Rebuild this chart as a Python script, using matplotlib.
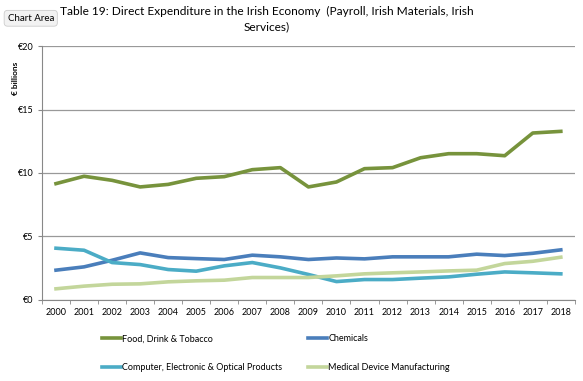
import matplotlib
matplotlib.use("Agg")
import matplotlib.pyplot as plt

plt.rcParams['font.family'] = ['Lato', 'DejaVu Sans']

years = [str(y) for y in range(2000, 2019)]
food = [9.16, 9.74, 9.42, 8.9, 9.1, 9.58, 9.71, 10.26, 10.42, 8.9, 9.29,
        10.34, 10.42, 11.2, 11.52, 11.52, 11.36, 13.15, 13.28]
chemicals = [2.34, 2.6, 3.12, 3.7, 3.33, 3.25, 3.18, 3.52, 3.39, 3.18, 3.3,
             3.23, 3.39, 3.39, 3.39, 3.6, 3.49, 3.67, 3.94]
computer = [4.07, 3.91, 2.94, 2.78, 2.39, 2.26, 2.68, 2.94, 2.52, 2.0, 1.44,
            1.6, 1.6, 1.71, 1.81, 2.02, 2.2, 2.13, 2.05]
medical = [0.87, 1.08, 1.23, 1.26, 1.42, 1.5, 1.55, 1.76, 1.76, 1.76, 1.89,
           2.05, 2.13, 2.2, 2.28, 2.34, 2.86, 3.04, 3.36]
yticks = [0, 5, 10, 15, 20]
ytick_labels = ['€0', '€5', '€10', '€15', '€20']

fig = plt.figure(figsize=(5.83, 3.81), dpi=100)
ax = fig.add_axes([0.072, 0.213, 0.914, 0.666])

x = range(len(years))
l1, = ax.plot(x, food, color='#77933C', lw=2.6, label='Food, Drink & Tobacco')
l2, = ax.plot(x, chemicals, color='#4A7EBB', lw=2.6, label='Chemicals')
l3, = ax.plot(x, computer, color='#4BACC6', lw=2.6, label='Computer, Electronic & Optical Products')
l4, = ax.plot(x, medical, color='#C3D69B', lw=2.6, label='Medical Device Manufacturing')

ax.set_xlim(-0.5, len(years) - 0.5)
ax.set_ylim(0, 20)
ax.set_yticks(yticks)
ax.set_yticklabels(ytick_labels, fontsize=6.5)
ax.set_xticks(x)
ax.set_xticklabels(years, fontsize=6.5)
ax.set_xticks([i - 0.5 for i in range(len(years) + 1)], minor=True)
ax.tick_params(axis='x', which='major', length=0, pad=6)
ax.tick_params(axis='x', which='minor', length=3, color='#888888')
ax.tick_params(axis='y', length=3, color='#888888', pad=3)
ax.yaxis.grid(True, color='#999999', lw=0.9)
ax.set_axisbelow(True)
for s in ['top', 'right']:
    ax.spines[s].set_visible(False)
for s in ['left', 'bottom']:
    ax.spines[s].set_color('#888888')

fig.text(0.027, 0.795, '€ billions', rotation=90, fontsize=6, fontweight='bold',
         ha='center', va='center')

fig.text(0.458, 0.985, 'Table 19: Direct Expenditure in the Irish Economy  (Payroll, Irish Materials, Irish\nServices)',
         ha='center', va='top', fontsize=8.6, linespacing=1.45)

fig.text(0.013, 0.952, 'Chart Area', fontsize=7, ha='left', va='center',
         bbox=dict(boxstyle='round,pad=0.35', fc='#F2F2F2', ec='#CCCCCC', lw=0.6))

# row-major order like Excel
leg = fig.legend([l1, l3, l2, l4], [l.get_label() for l in [l1, l3, l2, l4]],
                 loc='upper left', bbox_to_anchor=(0.168, 0.132), ncol=2,
                 frameon=False, fontsize=6.5, handlelength=2.1, handletextpad=0.2,
                 columnspacing=2.8, labelspacing=2.2, borderaxespad=0)
fig.savefig('out.png', dpi=100)
